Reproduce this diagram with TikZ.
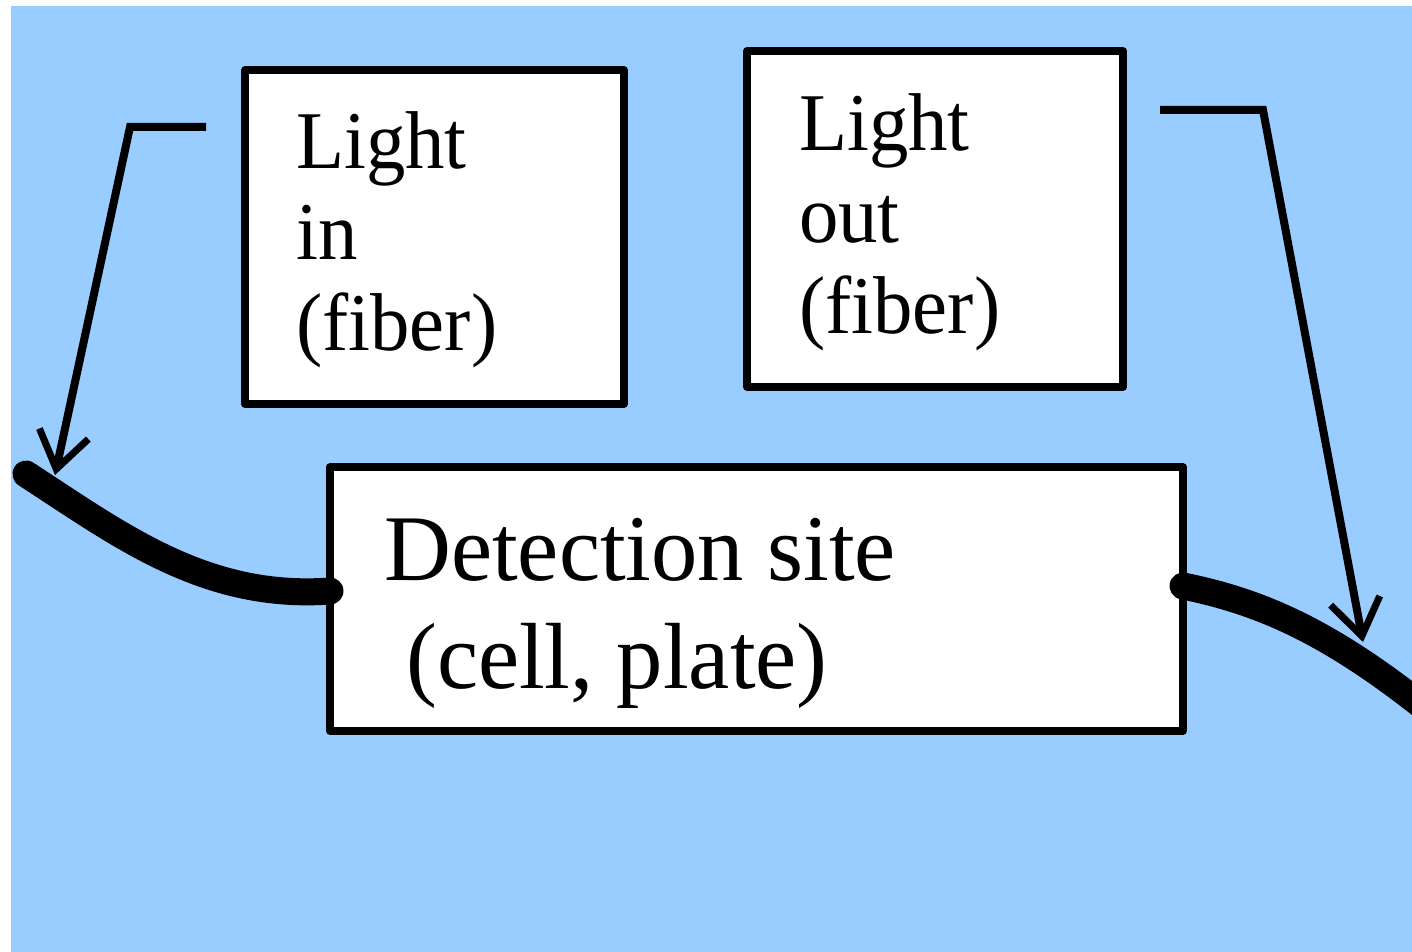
\documentclass[tikz,border=0pt]{standalone}
\usepackage{fontspec}
\setmainfont[FakeStretch=0.96]{Liberation Serif}
\newfontfamily\detfont[FakeStretch=0.985]{Liberation Serif}
\usetikzlibrary{arrows.meta}
\definecolor{bgblue}{HTML}{99CCFF}
\tikzset{
  box/.style={draw=black, fill=white, line width=7.5pt, line join=round, anchor=north west, inner sep=0pt, outer sep=0pt},
  boxtxt/.style={anchor=base west, inner sep=0pt, font=\fontsize{82}{91}\selectfont},
  dettxt/.style={anchor=base west, inner sep=0pt, font=\detfont\fontsize{94}{108}\selectfont},
  conn/.style={line width=8pt, line join=miter, -{Straight Barb[length=36pt,width=50pt,line width=7pt]}},
  fiberline/.style={line width=27pt, line cap=round}
}
\begin{document}
\begin{tikzpicture}[x=1pt,y=-1pt]
\useasboundingbox (0,0) rectangle (1412,952);
\fill[bgblue] (11,6) rectangle (1412,952);

% boxes
\node[box, minimum width=379pt, minimum height=334pt] (inbox) at (245,70) {};
\node[box, minimum width=376pt, minimum height=336pt] (outbox) at (747,51) {};
\node[box, minimum width=853pt, minimum height=264pt] (det) at (330,467) {};

% texts
\node[boxtxt] (in1) at (296,168) {Light};
\node[boxtxt] (in2) at (296,259) {in};
\node[boxtxt] (in3) at (296,350) {(fiber)};
\node[boxtxt] (out1) at (799,151) {Light};
\node[boxtxt] (out2) at (799,242) {out};
\node[boxtxt] (out3) at (799,333) {(fiber)};
\node[dettxt] (det1) at (384,580) {Detection site};
\node[dettxt] (det2) at (406,688) {(cell, plate)};

% fibers
\coordinate (lfend) at (26,474);
\coordinate (rfend) at (1430,712);
\draw[fiberline] ([yshift=8pt]det.west) .. controls (205,600) and (120,535) .. (lfend);
\draw[fiberline] ([yshift=13pt]det.east) .. controls (1262,602) and (1330,632) .. (rfend);

% connectors
\coordinate (lstart) at (206,127);
\coordinate (lbend) at (130,127);
\coordinate (ltip) at (55,475);
\coordinate (rstart) at (1160,110);
\coordinate (rbend) at (1263,110);
\coordinate (rtip) at (1363,642);
\draw[conn] (lstart) -- (lbend) -- (ltip);
\draw[conn] (rstart) -- (rbend) -- (rtip);
\end{tikzpicture}
\end{document}
